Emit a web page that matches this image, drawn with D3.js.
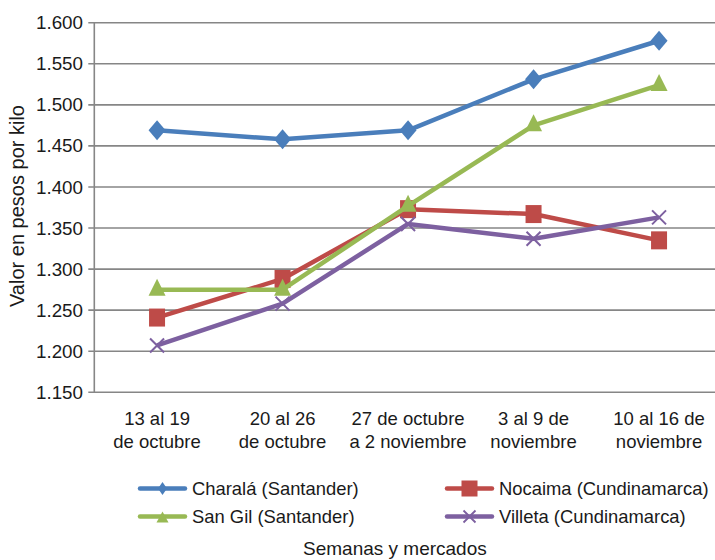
<!DOCTYPE html>
<html>
<head>
<meta charset="utf-8">
<script src="https://cdn.jsdelivr.net/npm/d3@7"></script>
<style>
  html, body { margin: 0; padding: 0; background: #fff; }
  svg { display: block; font-family: "Liberation Sans", Arial, sans-serif; }
</style>
</head>
<body>
<svg id="chart" width="715" height="560"></svg>
<script>
const categories = [
  ["13 al 19", "de octubre"],
  ["20 al 26", "de octubre"],
  ["27 de octubre", "a 2 noviembre"],
  ["3 al 9 de", "noviembre"],
  ["10 al 16 de", "noviembre"]
];
const seriesNames = ["Charalá (Santander)", "Nocaima (Cundinamarca)", "San Gil (Santander)", "Villeta (Cundinamarca)"];
const charala = [1469, 1458, 1469, 1531, 1578];
const nocaima = [1241, 1288, 1373, 1367, 1335];
const sanGil  = [1275, 1275, 1377, 1475, 1524];
const villeta = [1207, 1258, 1355, 1337, 1363];
const yTicks = [1150, 1200, 1250, 1300, 1350, 1400, 1450, 1500, 1550, 1600];
const colors = ["#4A7EBB", "#BE4B48", "#98B954", "#7D60A0"];
const markers = ["diamond", "square", "triangle", "cross"];
const seriesValues = [charala, nocaima, sanGil, villeta];

(function () {
const svg = d3.select("#chart");
const pLeft = 94.3, pRight = 721.8, pTop = 22.7, pBottom = 392.3;

const x = d3.scaleBand().domain(d3.range(categories.length)).range([pLeft, pRight]);
const y = d3.scaleLinear().domain([1150, 1600]).range([pBottom, pTop]);
const fmt = v => d3.format(".3f")(v / 1000);
const cxOf = i => x(i) + x.bandwidth() / 2;
const txt = "#1a1a1a";

// gridlines
svg.append("g").selectAll("line").data(yTicks).join("line")
  .attr("x1", pLeft - 6).attr("x2", pRight)
  .attr("y1", d => y(d)).attr("y2", d => y(d))
  .attr("stroke", "#868686").attr("stroke-width", 1.6);

// y axis line
svg.append("line").attr("x1", pLeft).attr("x2", pLeft)
  .attr("y1", pTop).attr("y2", pBottom)
  .attr("stroke", "#868686").attr("stroke-width", 1.6);

// y tick labels
svg.append("g").selectAll("text").data(yTicks).join("text")
  .attr("x", 83).attr("y", d => y(d)).attr("dy", "0.35em")
  .attr("text-anchor", "end").attr("font-size", 18.8).attr("fill", txt)
  .text(fmt);

// x labels
const xl = svg.append("g").selectAll("text").data(categories).join("text")
  .attr("text-anchor", "middle").attr("font-size", 18.5).attr("fill", txt);
xl.append("tspan").attr("x", (d, i) => cxOf(i)).attr("y", 425).text(d => d[0]);
xl.append("tspan").attr("x", (d, i) => cxOf(i)).attr("y", 448).text(d => d[1]);

// y title
svg.append("text")
  .attr("transform", "translate(24,206) rotate(-90)")
  .attr("text-anchor", "middle").attr("font-size", 20).attr("fill", txt)
  .text("Valor en pesos por kilo");

// x title
svg.append("text").attr("x", 303).attr("y", 555)
  .attr("text-anchor", "start").attr("font-size", 19).attr("fill", txt)
  .text("Semanas y mercados");

function drawMarker(g, type, color, cx, cy) {
  if (type === "diamond") {
    g.append("path").attr("d", `M${cx},${cy - 10}L${cx + 8.5},${cy}L${cx},${cy + 10}L${cx - 8.5},${cy}Z`).attr("fill", color);
  } else if (type === "square") {
    g.append("rect").attr("x", cx - 8).attr("y", cy - 9).attr("width", 16).attr("height", 18).attr("fill", color);
  } else if (type === "triangle") {
    g.append("path").attr("d", `M${cx},${cy - 11}L${cx + 8.5},${cy + 6}L${cx - 8.5},${cy + 6}Z`).attr("fill", color);
  } else {
    g.append("path").attr("d", `M${cx - 7},${cy - 7}L${cx + 7},${cy + 7}M${cx - 7},${cy + 7}L${cx + 7},${cy - 7}`)
      .attr("stroke", color).attr("stroke-width", 2).attr("fill", "none");
  }
}

const line = d3.line().x((d, i) => cxOf(i)).y(d => y(d));
seriesValues.forEach((vals, si) => {
  const g = svg.append("g");
  g.append("path").datum(vals).attr("d", line)
    .attr("fill", "none").attr("stroke", colors[si]).attr("stroke-width", 4.5)
    .attr("stroke-linejoin", "round");
  vals.forEach((v, i) => drawMarker(g, markers[si], colors[si], cxOf(i), y(v)));
});

// legend
const legendPos = [[140, 488.5], [447, 488.5], [140, 516.5], [447, 516.5]];
[0, 1, 2, 3].forEach((si, k) => {
  const [lx, ly] = legendPos[k];
  const g = svg.append("g");
  g.append("line").attr("x1", lx).attr("x2", lx + 45).attr("y1", ly).attr("y2", ly)
    .attr("stroke", colors[si]).attr("stroke-width", 4.5).attr("stroke-linecap", "round");
  const cx = lx + 22.5;
  if (markers[si] === "diamond") {
    g.append("path").attr("d", `M${cx},${ly - 6.5}L${cx + 4.5},${ly}L${cx},${ly + 6.5}L${cx - 4.5},${ly}Z`).attr("fill", colors[si]);
  } else if (markers[si] === "square") {
    g.append("rect").attr("x", cx - 8).attr("y", ly - 8).attr("width", 16).attr("height", 16).attr("fill", colors[si]);
  } else if (markers[si] === "triangle") {
    g.append("path").attr("d", `M${cx},${ly - 5}L${cx + 6},${ly + 6}L${cx - 6},${ly + 6}Z`).attr("fill", colors[si]);
  } else {
    g.append("path").attr("d", `M${cx - 6},${ly - 6}L${cx + 6},${ly + 6}M${cx - 6},${ly + 6}L${cx + 6},${ly - 6}`)
      .attr("stroke", colors[si]).attr("stroke-width", 1.8);
  }
  g.append("text").attr("x", lx + 52).attr("y", ly).attr("dy", "0.35em")
    .attr("font-size", 18.4).attr("fill", txt).text(seriesNames[si]);
});
})();
</script>
</body>
</html>
